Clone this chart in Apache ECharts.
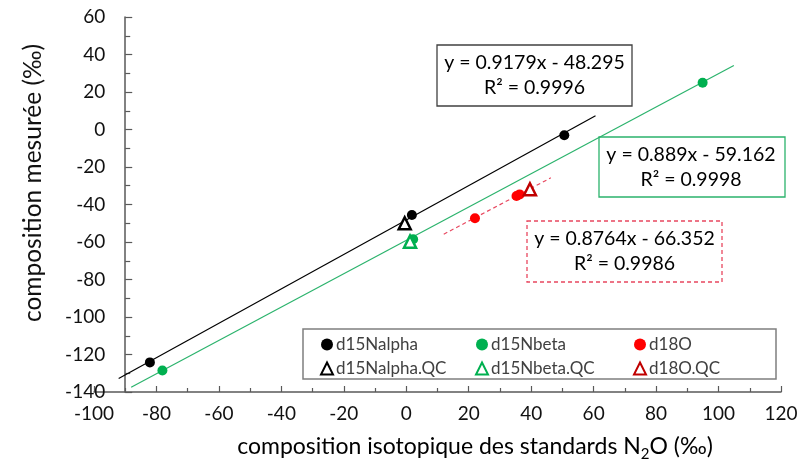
<!DOCTYPE html>
<html>
<head>
<meta charset="utf-8">
<script src="https://cdn.jsdelivr.net/npm/echarts@6/dist/echarts.min.js"></script>
<style>
  html, body { margin: 0; padding: 0; background: #fff; }
  #chart { width: 801px; height: 469px; }
</style>
</head>
<body>
<div id="chart"></div>
<script>
// Measured standards (x = certified value, y = measured value), in per mil
const alphaStd = [[-82.1, -124.2], [1.8, -45.6], [50.6, -3.1]];
const betaStd  = [[-78.1, -128.5], [2.2, -58.5], [94.9, 24.9]];
const o18Std   = [[22.0, -47.3], [35.3, -35.5], [36.3, -34.6]];
// Quality-control samples
const alphaQC = [[-0.5, -50.0]];
const betaQC  = [[1.2, -59.8]];
const o18QC   = [[39.6, -31.9]];

// Linear fits: alpha, beta, 18O
const fitSlopes     = [0.9179, 0.889, 0.8764];
const fitIntercepts = [-48.295, -59.162, -66.352];
const fitR2         = [0.9996, 0.9998, 0.9986];
const fitSpans      = [[-92.1, 60.6], [-88.1, 104.9], [12.0, 46.3]];

// Axis ranges
const xRange = [-100, 120];
const yRange = [-140, 60];
const yAxisCrossX = -90;

const FONT = 'Lato, "Open Sans", sans-serif';
const GREEN = '#00b050';
const GREEN_LINE = '#2bb36c';
const RED = '#ff0000';
const RED_DARK = '#c00000';
const RED_FIT = '#e8475f';
const AXIS = '#595959';

const grid = { left: 94, right: 20, top: 17, bottom: 77 };
const gridW = 801 - grid.left - grid.right;
const yOffset = -gridW * (yAxisCrossX - xRange[0]) / (xRange[1] - xRange[0]);

function fitLine(i) {
  return fitSpans[i].map(x => [x, fitSlopes[i] * x + fitIntercepts[i]]);
}
function fitText(i) {
  const b = fitIntercepts[i];
  return 'y = ' + fitSlopes[i] + 'x ' + (b < 0 ? '- ' : '+ ') + Math.abs(b) +
    '\nR\u00b2 = ' + fitR2[i];
}
function eqBox(x, y, w, h, i, stroke, dash, tx) {
  return {
    type: 'group',
    children: [
      { type: 'rect', shape: { x: x, y: y, width: w, height: h },
        style: { fill: '#fff', stroke: stroke, lineWidth: 1.3, lineDash: dash } },
      { type: 'text', x: tx, y: y + h / 2,
        style: { text: fitText(i), font: '19.5px ' + FONT, fill: '#000',
                 align: 'center', verticalAlign: 'middle', lineHeight: 25 } }
    ]
  };
}

const chart = echarts.init(document.getElementById('chart'), null, { renderer: 'canvas' });

const lineSeries = (i, color, dashed) => ({
  type: 'line', data: fitLine(i), symbol: 'none', silent: true, z: 1,
  lineStyle: { color: color, width: 1.2, type: dashed ? [4, 3] : 'solid' }
});
const dotSeries = (name, data, color) => ({
  name: name, type: 'scatter', data: data, symbol: 'circle', symbolSize: 10, z: 3,
  itemStyle: { color: color, opacity: 1 }
});
const triSeries = (name, data, color) => ({
  name: name, type: 'scatter', data: data, symbol: 'triangle', symbolSize: 12, z: 4,
  itemStyle: { color: '#fff', borderColor: color, borderWidth: 2.5, opacity: 1 }
});

const legendBase = {
  orient: 'vertical', top: 331, itemGap: 7, itemWidth: 12, itemHeight: 12,
  textStyle: { fontFamily: FONT, fontSize: 17, color: '#404040', padding: [0, 0, 0, -2] },
  selectedMode: false
};

chart.setOption({
  animation: false,
  backgroundColor: '#fff',
  grid: grid,
  xAxis: {
    type: 'value', min: xRange[0], max: xRange[1], interval: 20,
    axisLine: { onZero: false, lineStyle: { color: AXIS, width: 1.5 } },
    axisTick: { inside: true, length: 6, lineStyle: { color: AXIS, width: 1.2 } },
    minorTick: { show: true, splitNumber: 2, length: 4, lineStyle: { color: AXIS, width: 1.2 } },
    axisLabel: { fontFamily: FONT, fontSize: 19, color: '#111', margin: 12 },
    splitLine: { show: false }
  },
  yAxis: {
    type: 'value', min: yRange[0], max: yRange[1], interval: 20,
    offset: yOffset,
    axisLine: { show: true, onZero: false, lineStyle: { color: AXIS, width: 1.5 } },
    axisTick: { show: true, inside: true, length: 7, lineStyle: { color: AXIS, width: 1.2 } },
    minorTick: { show: true, splitNumber: 2, length: 5, lineStyle: { color: AXIS, width: 1.2 } },
    axisLabel: { fontFamily: FONT, fontSize: 19, color: '#111', margin: 20 },
    splitLine: { show: false }
  },
  legend: [
    Object.assign({ left: 315, data: ['d15Nalpha', 'd15Nalpha.QC'] }, legendBase),
    Object.assign({ left: 470, data: ['d15Nbeta', 'd15Nbeta.QC'] }, legendBase),
    Object.assign({ left: 628, data: ['d18O', 'd18O.QC'] }, legendBase)
  ],
  series: [
    lineSeries(0, '#000', false),
    lineSeries(1, GREEN_LINE, false),
    lineSeries(2, RED_FIT, true),
    dotSeries('d15Nalpha', alphaStd, '#000'),
    dotSeries('d15Nbeta', betaStd, GREEN),
    dotSeries('d18O', o18Std, RED),
    triSeries('d15Nalpha.QC', alphaQC, '#000'),
    triSeries('d15Nbeta.QC', betaQC, GREEN),
    triSeries('d18O.QC', o18QC, RED_DARK)
  ],
  graphic: [
    // legend frame
    { type: 'rect', z: 0, shape: { x: 303, y: 329, width: 473, height: 50 },
      style: { fill: '#fff', stroke: '#7f7f7f', lineWidth: 1.5 } },
    eqBox(437, 45, 195, 61, 0, '#404040', null, 534.5),
    eqBox(599, 137, 186, 60, 1, GREEN_LINE, null, 691),
    eqBox(527, 221, 195, 61, 2, RED_FIT, [4, 3], 624.5),
    // axis titles
    { type: 'text', x: 33, y: 183, rotation: Math.PI / 2,
      style: { text: 'composition mesurée (‰)', font: '24.5px ' + FONT, fill: '#111',
               align: 'center', verticalAlign: 'middle' } },
    { type: 'text', x: 475, y: 447,
      style: { text: '{a|composition isotopique des standards N}{s|2}{a|O (‰)}',
               align: 'center', verticalAlign: 'middle',
               rich: {
                 a: { fontFamily: FONT, fontSize: 23, color: '#111', lineHeight: 30 },
                 s: { fontFamily: FONT, fontSize: 15, color: '#111', lineHeight: 30, verticalAlign: 'bottom' }
               } } }
  ]
});
</script>
</body>
</html>
